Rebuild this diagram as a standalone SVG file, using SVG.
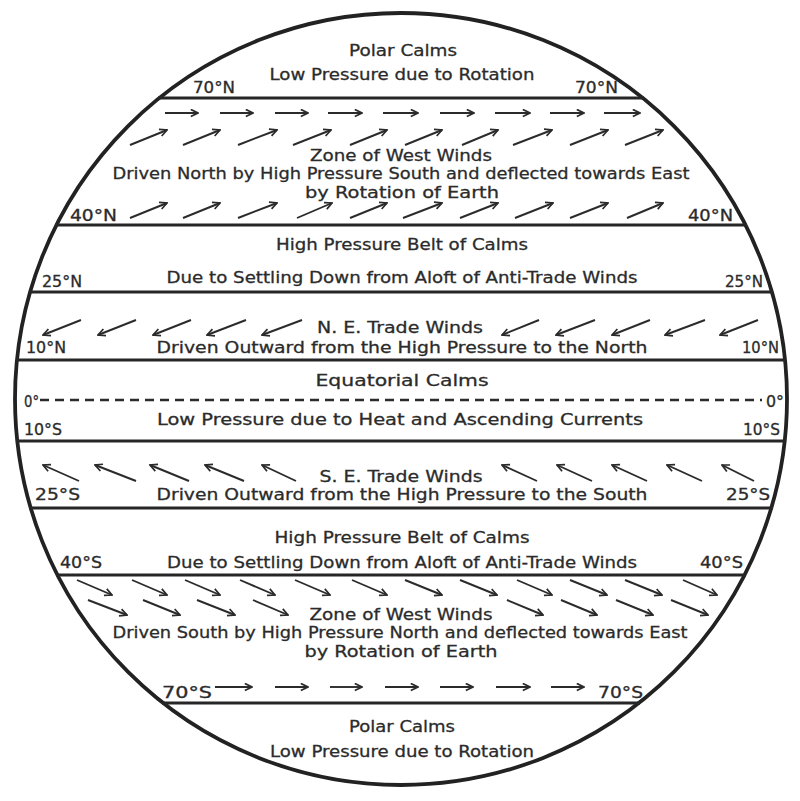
<svg xmlns="http://www.w3.org/2000/svg" width="800" height="801" viewBox="0 0 800 801">
<defs>
<style>
.t{font-family:"DejaVu Sans","Liberation Sans",sans-serif;font-size:16px;fill:#2b2b2b;stroke:#2b2b2b;stroke-width:0.3;text-anchor:middle}
.lb{font-family:"DejaVu Sans","Liberation Sans",sans-serif;font-size:15px;fill:#2b2b2b;stroke:#2b2b2b;stroke-width:0.3}
.belt{stroke:#262626;stroke-width:3;fill:none}
.eq{stroke:#2b2b2b;stroke-width:2.6;stroke-dasharray:9 6;fill:none}
.w{stroke:#2b2b2b;stroke-width:1.9;fill:none;marker-end:url(#ah)}
</style>
<marker id="ah" viewBox="0 0 10 10" refX="9" refY="5" markerWidth="9" markerHeight="9" markerUnits="userSpaceOnUse" orient="auto">
<path d="M1,1 L9,5 L1,9" fill="none" stroke="#2b2b2b" stroke-width="1.9"/>
</marker>
</defs>
<rect width="800" height="801" fill="#ffffff"/>

<g id="globe">
<circle cx="401" cy="399" r="386" fill="none" stroke="#222" stroke-width="3.8"/>
</g>

<g id="belts">
<line class="belt" x1="158" y1="98" x2="644" y2="98"/>
<line class="belt" x1="55" y1="225" x2="747" y2="225"/>
<line class="belt" x1="29" y1="292" x2="773" y2="292"/>
<line class="belt" x1="16" y1="360" x2="786" y2="360"/>
<line class="eq" x1="40" y1="400" x2="762" y2="400"/>
<line class="belt" x1="16" y1="441" x2="786" y2="441"/>
<line class="belt" x1="29" y1="508" x2="773" y2="508"/>
<line class="belt" x1="56" y1="575" x2="746" y2="575"/>
<line class="belt" x1="162" y1="703" x2="640" y2="703"/>
</g>

<g id="north-polar-calms">
<text class="t" x="403" y="56" textLength="108" lengthAdjust="spacingAndGlyphs">Polar Calms</text>
<text class="t" x="402" y="80" textLength="265" lengthAdjust="spacingAndGlyphs">Low Pressure due to Rotation</text>
</g>

<g id="lat-70N">
<text class="lb" x="193" y="93" textLength="42" lengthAdjust="spacingAndGlyphs">70°N</text>
<text class="lb" x="575" y="93" textLength="43" lengthAdjust="spacingAndGlyphs">70°N</text>
</g>

<g id="north-west-winds">
<text class="t" x="401" y="161" textLength="182" lengthAdjust="spacingAndGlyphs">Zone of West Winds</text>
<text class="t" x="401" y="179" textLength="577" lengthAdjust="spacingAndGlyphs">Driven North by High Pressure South and deflected towards East</text>
<text class="t" x="402" y="198" textLength="194" lengthAdjust="spacingAndGlyphs">by Rotation of Earth</text>
</g>

<g id="lat-40N">
<text class="lb" x="70" y="221" textLength="47" lengthAdjust="spacingAndGlyphs">40°N</text>
<text class="lb" x="688" y="221" textLength="45" lengthAdjust="spacingAndGlyphs">40°N</text>
</g>

<g id="north-high-pressure">
<text class="t" x="402" y="250" textLength="252" lengthAdjust="spacingAndGlyphs">High Pressure Belt of Calms</text>
<text class="t" x="402" y="283" textLength="471" lengthAdjust="spacingAndGlyphs">Due to Settling Down from Aloft of Anti-Trade Winds</text>
</g>

<g id="lat-25N">
<text class="lb" x="42" y="287" textLength="40" lengthAdjust="spacingAndGlyphs">25°N</text>
<text class="lb" x="725" y="287" textLength="38" lengthAdjust="spacingAndGlyphs">25°N</text>
</g>

<g id="ne-trade-winds">
<text class="t" x="400" y="333" textLength="166" lengthAdjust="spacingAndGlyphs">N. E. Trade Winds</text>
<text class="t" x="402" y="353" textLength="491" lengthAdjust="spacingAndGlyphs">Driven Outward from the High Pressure to the North</text>
</g>

<g id="lat-10N">
<text class="lb" x="26" y="353" textLength="40" lengthAdjust="spacingAndGlyphs">10°N</text>
<text class="lb" x="742" y="353" textLength="37" lengthAdjust="spacingAndGlyphs">10°N</text>
</g>

<g id="equatorial-calms">
<text class="t" x="402" y="386" textLength="173" lengthAdjust="spacingAndGlyphs">Equatorial Calms</text>
<text class="t" x="400" y="425" textLength="486" lengthAdjust="spacingAndGlyphs">Low Pressure due to Heat and Ascending Currents</text>
</g>

<g id="lat-0">
<text class="lb" x="24" y="407" textLength="15" lengthAdjust="spacingAndGlyphs">0°</text>
<text class="lb" x="766" y="407" textLength="18" lengthAdjust="spacingAndGlyphs">0°</text>
</g>

<g id="lat-10S">
<text class="lb" x="24" y="435" textLength="38" lengthAdjust="spacingAndGlyphs">10°S</text>
<text class="lb" x="743" y="435" textLength="37" lengthAdjust="spacingAndGlyphs">10°S</text>
</g>

<g id="se-trade-winds">
<text class="t" x="401" y="482" textLength="163" lengthAdjust="spacingAndGlyphs">S. E. Trade Winds</text>
<text class="t" x="402" y="500" textLength="491" lengthAdjust="spacingAndGlyphs">Driven Outward from the High Pressure to the South</text>
</g>

<g id="lat-25S">
<text class="lb" x="35" y="500" textLength="45" lengthAdjust="spacingAndGlyphs">25°S</text>
<text class="lb" x="726" y="500" textLength="44" lengthAdjust="spacingAndGlyphs">25°S</text>
</g>

<g id="south-high-pressure">
<text class="t" x="402" y="543" textLength="255" lengthAdjust="spacingAndGlyphs">High Pressure Belt of Calms</text>
<text class="t" x="402" y="568" textLength="470" lengthAdjust="spacingAndGlyphs">Due to Settling Down from Aloft of Anti-Trade Winds</text>
</g>

<g id="lat-40S">
<text class="lb" x="60" y="568" textLength="42" lengthAdjust="spacingAndGlyphs">40°S</text>
<text class="lb" x="700" y="568" textLength="43" lengthAdjust="spacingAndGlyphs">40°S</text>
</g>

<g id="south-west-winds">
<text class="t" x="401" y="620" textLength="183" lengthAdjust="spacingAndGlyphs">Zone of West Winds</text>
<text class="t" x="400" y="638" textLength="575" lengthAdjust="spacingAndGlyphs">Driven South by High Pressure North and deflected towards East</text>
<text class="t" x="401" y="657" textLength="193" lengthAdjust="spacingAndGlyphs">by Rotation of Earth</text>
</g>

<g id="lat-70S">
<text class="lb" x="162" y="698" textLength="50" lengthAdjust="spacingAndGlyphs">70°S</text>
<text class="lb" x="598" y="698" textLength="45" lengthAdjust="spacingAndGlyphs">70°S</text>
</g>

<g id="south-polar-calms">
<text class="t" x="402" y="732" textLength="106" lengthAdjust="spacingAndGlyphs">Polar Calms</text>
<text class="t" x="402" y="757" textLength="264" lengthAdjust="spacingAndGlyphs">Low Pressure due to Rotation</text>
</g>

<g id="wind-arrows">
<line class="w" x1="165" y1="113" x2="198" y2="113"/>
<line class="w" x1="220" y1="113" x2="253" y2="113"/>
<line class="w" x1="275" y1="113" x2="308" y2="113"/>
<line class="w" x1="328" y1="113" x2="362" y2="113"/>
<line class="w" x1="383" y1="113" x2="418" y2="113"/>
<line class="w" x1="440" y1="113" x2="474" y2="113"/>
<line class="w" x1="495" y1="113" x2="530" y2="113"/>
<line class="w" x1="550" y1="113" x2="584" y2="113"/>
<line class="w" x1="604" y1="113" x2="640" y2="113"/>
<line class="w" x1="130" y1="145" x2="167" y2="130"/>
<line class="w" x1="183" y1="145" x2="220" y2="130"/>
<line class="w" x1="238" y1="145" x2="277" y2="130"/>
<line class="w" x1="293" y1="145" x2="331" y2="130"/>
<line class="w" x1="350" y1="145" x2="387" y2="130"/>
<line class="w" x1="405" y1="145" x2="442" y2="130"/>
<line class="w" x1="462" y1="145" x2="498" y2="130"/>
<line class="w" x1="513" y1="145" x2="552" y2="130"/>
<line class="w" x1="570" y1="145" x2="608" y2="130"/>
<line class="w" x1="625" y1="145" x2="663" y2="130"/>
<line class="w" x1="130" y1="218" x2="167" y2="203"/>
<line class="w" x1="183" y1="218" x2="220" y2="203"/>
<line class="w" x1="238" y1="218" x2="277" y2="203"/>
<line class="w" x1="297" y1="218" x2="332" y2="203"/>
<line class="w" x1="350" y1="218" x2="387" y2="203"/>
<line class="w" x1="403" y1="218" x2="442" y2="203"/>
<line class="w" x1="460" y1="218" x2="498" y2="203"/>
<line class="w" x1="515" y1="218" x2="553" y2="203"/>
<line class="w" x1="570" y1="218" x2="608" y2="203"/>
<line class="w" x1="627" y1="218" x2="663" y2="203"/>
<line class="w" x1="81" y1="320" x2="43" y2="335"/>
<line class="w" x1="136" y1="320" x2="98" y2="335"/>
<line class="w" x1="191" y1="320" x2="153" y2="335"/>
<line class="w" x1="246" y1="320" x2="207" y2="335"/>
<line class="w" x1="302" y1="320" x2="262" y2="335"/>
<line class="w" x1="539" y1="320" x2="502" y2="335"/>
<line class="w" x1="595" y1="320" x2="556" y2="335"/>
<line class="w" x1="650" y1="320" x2="612" y2="335"/>
<line class="w" x1="705" y1="320" x2="665" y2="335"/>
<line class="w" x1="758" y1="320" x2="720" y2="335"/>
<line class="w" x1="79" y1="481" x2="43" y2="465"/>
<line class="w" x1="136" y1="481" x2="95" y2="465"/>
<line class="w" x1="189" y1="481" x2="150" y2="465"/>
<line class="w" x1="244" y1="481" x2="205" y2="465"/>
<line class="w" x1="296" y1="481" x2="262" y2="465"/>
<line class="w" x1="537" y1="481" x2="502" y2="465"/>
<line class="w" x1="592" y1="481" x2="557" y2="465"/>
<line class="w" x1="647" y1="481" x2="612" y2="465"/>
<line class="w" x1="702" y1="481" x2="667" y2="465"/>
<line class="w" x1="754" y1="481" x2="722" y2="465"/>
<line class="w" x1="77" y1="580" x2="112" y2="595"/>
<line class="w" x1="132" y1="580" x2="167" y2="595"/>
<line class="w" x1="185" y1="580" x2="220" y2="595"/>
<line class="w" x1="240" y1="580" x2="275" y2="595"/>
<line class="w" x1="295" y1="580" x2="330" y2="595"/>
<line class="w" x1="352" y1="580" x2="387" y2="595"/>
<line class="w" x1="405" y1="580" x2="442" y2="595"/>
<line class="w" x1="460" y1="580" x2="497" y2="595"/>
<line class="w" x1="517" y1="580" x2="552" y2="595"/>
<line class="w" x1="570" y1="580" x2="607" y2="595"/>
<line class="w" x1="625" y1="580" x2="662" y2="595"/>
<line class="w" x1="683" y1="580" x2="717" y2="595"/>
<line class="w" x1="88" y1="600" x2="127" y2="615"/>
<line class="w" x1="143" y1="600" x2="180" y2="615"/>
<line class="w" x1="197" y1="600" x2="235" y2="615"/>
<line class="w" x1="253" y1="600" x2="288" y2="615"/>
<line class="w" x1="507" y1="600" x2="543" y2="615"/>
<line class="w" x1="561" y1="600" x2="597" y2="615"/>
<line class="w" x1="616" y1="600" x2="653" y2="615"/>
<line class="w" x1="671" y1="600" x2="708" y2="615"/>
<line class="w" x1="215" y1="687" x2="252" y2="687"/>
<line class="w" x1="275" y1="687" x2="308" y2="687"/>
<line class="w" x1="330" y1="687" x2="362" y2="687"/>
<line class="w" x1="385" y1="687" x2="418" y2="687"/>
<line class="w" x1="440" y1="687" x2="473" y2="687"/>
<line class="w" x1="496" y1="687" x2="530" y2="687"/>
<line class="w" x1="551" y1="687" x2="584" y2="687"/>
</g>
</svg>
